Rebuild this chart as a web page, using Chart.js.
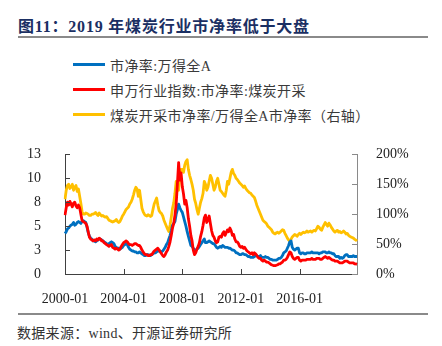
<!DOCTYPE html>
<html lang="zh-CN">
<head>
<meta charset="utf-8">
<script src="https://cdn.jsdelivr.net/npm/chart.js@4.4.0/dist/chart.umd.min.js"></script>
<style>
  html, body { margin: 0; padding: 0; background: #fff; }
  body {
    width: 442px; height: 346px; position: relative; overflow: hidden;
    font-family: "Liberation Serif", "Noto Sans CJK SC", serif;
  }
  .title {
    position: absolute; left: 18px; top: 13px; letter-spacing: 0.8px;
    font-size: 16px; font-weight: bold; color: #1b2f63; white-space: nowrap;
  }
  .rule { position: absolute; left: 18px; width: 410px; height: 2px; background: #8a8a8a; }
  .legend { position: absolute; left: 73px; top: 52px; font-size: 14px; color: #3a3a3a; letter-spacing: 0.4px; }
  .legend div { height: 25px; display: flex; align-items: center; white-space: nowrap; }
  .legend i { display: inline-block; width: 32px; height: 3px; margin-right: 5px; }
  .source { position: absolute; left: 17px; top: 322px; font-size: 14px; color: #333; white-space: nowrap; letter-spacing: 0.3px; }
  #wrap { position: absolute; left: 0; top: 130px; width: 442px; height: 175px; }
</style>
</head>
<body>
<div class="title">图11：2019 年煤炭行业市净率低于大盘</div>
<div class="rule" style="top:36px"></div>
<div class="legend" id="legend"></div>
<div id="wrap"><canvas id="pb-chart" width="442" height="175"></canvas></div>
<div class="rule" style="top:313px"></div>
<div class="source">数据来源：wind、开源证券研究所</div>

<script>
// 月度数据 2000-01 ~ 2019-12
const startYear = 2000;
const endYear = 2019;

// 市净率:万得全A
const pbAllA = [
  4.4, 4.6, 4.9, 5.0, 5.2, 5.3, 5.4, 5.6, 5.3, 5.4, 5.6, 5.7,   // 2000
  5.6, 5.5, 5.7, 5.8, 5.7, 5.6, 5.1, 4.5, 4.1, 3.9, 3.8, 3.6,   // 2001
  3.6, 3.5, 3.6, 3.7, 3.8, 3.8, 3.7, 3.6, 3.5, 3.4, 3.3, 3.2,   // 2002
  3.3, 3.4, 3.5, 3.4, 3.3, 3.0, 2.9, 2.8, 2.8, 2.7, 2.8, 2.9,   // 2003
  3.1, 3.2, 3.3, 3.2, 2.9, 2.7, 2.6, 2.5, 2.5, 2.4, 2.4, 2.3,   // 2004
  2.3, 2.4, 2.3, 2.2, 2.1, 2.0, 2.0, 2.1, 2.1, 2.0, 2.0, 2.1,   // 2005
  2.2, 2.3, 2.3, 2.4, 2.5, 2.5, 2.5, 2.4, 2.5, 2.7, 2.9, 3.2,   // 2006
  3.4, 3.8, 4.2, 4.7, 5.3, 5.5, 5.7, 6.5, 7.0, 7.6, 7.2, 6.9,   // 2007
  6.7, 6.2, 5.7, 5.2, 4.6, 4.1, 3.6, 3.1, 3.0, 2.8, 2.6, 2.6,   // 2008
  2.7, 2.8, 3.0, 3.2, 3.4, 3.6, 3.8, 3.4, 3.4, 3.5, 3.6, 3.5,   // 2009
  3.4, 3.3, 3.3, 3.1, 2.9, 2.8, 2.9, 3.0, 2.9, 3.1, 3.0, 2.9,   // 2010
  2.9, 2.9, 2.8, 2.8, 2.7, 2.6, 2.6, 2.5, 2.3, 2.3, 2.2, 2.1,   // 2011
  2.1, 2.2, 2.2, 2.1, 2.1, 2.0, 1.9, 1.9, 1.8, 1.8, 1.8, 1.9,   // 2012
  2.0, 2.0, 1.9, 1.9, 2.0, 1.8, 1.8, 1.8, 1.9, 1.8, 1.8, 1.7,   // 2013
  1.6, 1.6, 1.5, 1.5, 1.5, 1.5, 1.6, 1.7, 1.7, 1.8, 2.0, 2.3,   // 2014
  2.4, 2.5, 2.8, 3.1, 3.5, 3.6, 2.9, 2.7, 2.6, 2.7, 2.8, 2.8,   // 2015
  2.3, 2.2, 2.3, 2.3, 2.2, 2.2, 2.3, 2.3, 2.3, 2.3, 2.4, 2.3,   // 2016
  2.3, 2.3, 2.3, 2.3, 2.2, 2.3, 2.3, 2.4, 2.4, 2.4, 2.3, 2.3,   // 2017
  2.4, 2.3, 2.3, 2.2, 2.2, 2.0, 1.9, 1.9, 1.9, 1.7, 1.8, 1.7,   // 2018
  1.8, 2.0, 2.1, 2.1, 1.9, 1.9, 1.9, 1.9, 2.0, 1.9, 1.9, 1.9    // 2019
];

// 申万行业指数:市净率:煤炭开采
const pbCoal = [
  6.4, 7.2, 7.8, 7.5, 7.9, 7.6, 7.3, 7.7, 7.8, 7.4, 7.2, 7.5,   // 2000
  7.2, 6.5, 5.8, 5.7, 5.6, 5.5, 5.2, 4.6, 4.0, 3.8, 3.7, 3.6,   // 2001
  3.7, 3.6, 3.8, 3.7, 3.9, 3.8, 3.6, 3.6, 3.4, 3.3, 3.2, 3.1,   // 2002
  3.0, 3.1, 3.2, 2.9, 2.8, 2.7, 2.8, 2.7, 2.6, 2.7, 3.0, 3.2,   // 2003
  3.4, 3.5, 3.6, 3.5, 3.3, 3.2, 3.2, 3.1, 3.2, 3.3, 3.3, 3.2,   // 2004
  3.1, 3.1, 2.9, 2.6, 2.4, 2.2, 2.1, 2.1, 2.0, 2.0, 2.1, 2.1,   // 2005
  2.3, 2.5, 2.6, 2.7, 2.8, 2.6, 2.4, 2.2, 2.0, 1.9, 2.1, 2.4,   // 2006
  2.6, 3.0, 3.5, 4.2, 5.0, 5.5, 6.4, 7.6, 9.8, 12.1, 10.2, 11.0, // 2007
  9.5, 8.7, 7.6, 8.0, 7.2, 6.0, 5.2, 4.2, 3.6, 2.6, 2.1, 2.3,   // 2008
  2.7, 3.0, 3.4, 4.1, 4.6, 5.3, 6.1, 6.4, 5.6, 5.9, 6.3, 5.5,   // 2009
  4.7, 4.2, 4.0, 3.6, 3.4, 3.5, 4.0, 4.1, 4.0, 4.4, 4.6, 4.2,   // 2010
  4.5, 4.8, 4.6, 5.0, 4.7, 4.2, 4.3, 3.8, 3.5, 3.5, 3.3, 3.0,   // 2011
  2.9, 3.0, 2.8, 2.9, 2.7, 2.5, 2.4, 2.3, 2.2, 2.3, 2.1, 2.3,   // 2012
  2.2, 2.0, 1.8, 1.7, 1.7, 1.5, 1.4, 1.5, 1.4, 1.3, 1.3, 1.2,   // 2013
  1.1, 1.0, 0.95, 0.9, 0.9, 0.95, 1.0, 1.1, 1.1, 1.2, 1.3, 1.5, // 2014
  1.5, 1.6, 1.8, 2.1, 2.4, 2.3, 1.9, 1.7, 1.6, 1.7, 1.8, 1.8,   // 2015
  1.5, 1.4, 1.5, 1.5, 1.5, 1.5, 1.6, 1.6, 1.6, 1.6, 1.7, 1.6,   // 2016
  1.6, 1.6, 1.7, 1.7, 1.7, 1.6, 1.6, 1.7, 1.8, 1.9, 1.8, 1.7,   // 2017
  1.8, 1.7, 1.6, 1.5, 1.5, 1.4, 1.4, 1.4, 1.3, 1.2, 1.2, 1.2,   // 2018
  1.3, 1.4, 1.4, 1.4, 1.3, 1.2, 1.2, 1.2, 1.2, 1.1, 1.1, 1.05   // 2019
];

// 煤炭开采市净率/万得全A市净率（%，右轴）
const pbRatio = [
  125, 140, 148, 150, 143, 146, 150, 140, 145, 148, 138, 142,   // 2000
  130, 118, 104, 100, 100, 102, 101, 100, 98, 98, 100, 100,     // 2001
  101, 103, 100, 98, 102, 99, 97, 98, 96, 95, 96, 93,           // 2002
  90, 89, 88, 87, 88, 89, 91, 88, 86, 88, 92, 97,               // 2003
  100, 104, 108, 110, 112, 117, 120, 125, 132, 140, 145, 142,   // 2004
  130, 140, 125, 110, 104, 100, 98, 97, 99, 98, 96, 98,         // 2005
  108, 117, 122, 127, 115, 106, 103, 101, 97, 90, 85, 80,       // 2006
  75, 71, 82, 95, 110, 119, 135, 155, 145, 140, 160, 175,       // 2007
  175, 170, 182, 188, 191, 175, 165, 158, 150, 140, 125, 118,   // 2008
  108, 100, 110, 120, 126, 135, 155, 150, 140, 145, 155, 165,   // 2009
  160, 150, 140, 145, 155, 160, 150, 140, 138, 135, 132, 130,   // 2010
  140, 155, 150, 160, 170, 175, 168, 165, 160, 158, 155, 152,   // 2011
  150, 148, 145, 147, 143, 140, 138, 136, 135, 132, 130, 128,   // 2012
  122, 115, 110, 105, 100, 95, 90, 88, 86, 84, 80, 78,          // 2013
  76, 74, 70, 68, 67, 69, 70, 68, 70, 72, 74, 73,               // 2014
  68, 64, 60, 57, 55, 58, 62, 64, 66, 65, 63, 66,               // 2015
  68, 66, 68, 70, 69, 70, 72, 70, 71, 72, 70, 72,               // 2016
  73, 72, 76, 80, 78, 75, 73, 78, 82, 86, 83, 80,               // 2017
  85, 82, 78, 75, 72, 70, 72, 73, 70, 71, 69, 70,               // 2018
  72, 70, 67, 68, 65, 63, 62, 61, 60, 58, 57, 55                // 2019
];

// 坐标轴刻度
const xTickLabels = ['2000-01', '2004-01', '2008-01', '2012-01', '2016-01'];
const leftTicks = [0, 2.6, 5.2, 7.8, 10.4, 13];
const leftTickLabels = ['0', '3', '5', '8', '10', '13'];
const rightTicks = [0, 50, 100, 150, 200];

const seriesNames = ['市净率:万得全A', '申万行业指数:市净率:煤炭开采', '煤炭开采市净率/万得全A市净率（右轴）'];
const seriesColors = ['#0070c0', '#ff0000', '#ffc000'];

// 月份标签
const months = [];
for (let y = startYear; y <= endYear; y++) {
  for (let m = 1; m <= 12; m++) months.push(y + '-' + String(m).padStart(2, '0'));
}

// 图例
const legendEl = document.getElementById('legend');
seriesNames.forEach((name, i) => {
  legendEl.innerHTML += `<div><i style="background:${seriesColors[i]}"></i>${name}</div>`;
});

const axisColor = '#404040';
const tickFont = { family: '"Liberation Serif", "Times New Roman", serif', size: 14 };

// 刻度线向内画
const inwardTicks = {
  id: 'inwardTicks',
  afterDraw(chart) {
    const { ctx, chartArea, scales } = chart;
    ctx.save();
    ctx.lineWidth = 1;
    ctx.beginPath();
    ctx.strokeStyle = axisColor;
    scales.y.ticks.forEach((t, i) => {
      const py = Math.round(scales.y.getPixelForTick(i)) + 0.5;
      ctx.moveTo(chartArea.left, py);
      ctx.lineTo(chartArea.left + 5, py);
    });
    months.forEach((lab, i) => {
      if (xTickLabels.includes(lab)) {
        const px = Math.round(scales.x.getPixelForValue(i)) + 0.5;
        ctx.moveTo(px, chartArea.bottom);
        ctx.lineTo(px, chartArea.bottom - 5);
      }
    });
    ctx.stroke();
    ctx.beginPath();
    ctx.strokeStyle = '#8a8a8a';
    scales.y1.ticks.forEach((t, i) => {
      const py = Math.round(scales.y1.getPixelForTick(i)) + 0.5;
      ctx.moveTo(chartArea.right, py);
      ctx.lineTo(chartArea.right - 5, py);
    });
    ctx.stroke();
    ctx.restore();
  }
};

function lineSet(i, data, axis, order) {
  return {
    label: seriesNames[i],
    data: data,
    yAxisID: axis,
    borderColor: seriesColors[i],
    backgroundColor: seriesColors[i],
    borderWidth: 2.8,
    pointRadius: 0,
    tension: 0,
    borderJoinStyle: 'round',
    order: order
  };
}

new Chart(document.getElementById('pb-chart').getContext('2d'), {
  type: 'line',
  data: {
    labels: months,
    datasets: [
      lineSet(0, pbAllA, 'y', 1),
      lineSet(1, pbCoal, 'y', 0),
      lineSet(2, pbRatio, 'y1', 2)
    ]
  },
  options: {
    responsive: false,
    animation: false,
    devicePixelRatio: 1,
    layout: { padding: { top: 14, left: 0, right: 0, bottom: 0 } },
    plugins: { legend: { display: false }, tooltip: { enabled: false } },
    scales: {
      x: {
        type: 'category',
        grid: { display: false },
        border: { display: true, color: axisColor, width: 1 },
        ticks: {
          autoSkip: false, maxRotation: 0, minRotation: 0, padding: 9,
          color: '#222', font: tickFont,
          callback: function(v, i) { return xTickLabels.includes(months[i]) ? months[i] : null; }
        },
        afterFit: s => { s.height = 31; }
      },
      y: {
        position: 'left', min: 0, max: 13,
        grid: { display: false },
        border: { display: true, color: axisColor, width: 1 },
        afterBuildTicks: s => { s.ticks = leftTicks.map(v => ({ value: v })); },
        ticks: {
          padding: 16, color: '#222', font: tickFont,
          callback: function(v) { return leftTickLabels[leftTicks.indexOf(v)]; }
        },
        afterFit: s => { s.width = 65; }
      },
      y1: {
        position: 'right', min: 0, max: 200,
        grid: { display: false },
        border: { display: true, color: '#8a8a8a', width: 1 },
        afterBuildTicks: s => { s.ticks = rightTicks.map(v => ({ value: v })); },
        ticks: {
          padding: 11, color: '#222', font: tickFont,
          callback: v => v + '%'
        },
        afterFit: s => { s.width = 85; }
      }
    }
  },
  plugins: [inwardTicks]
});
</script>
</body>
</html>
